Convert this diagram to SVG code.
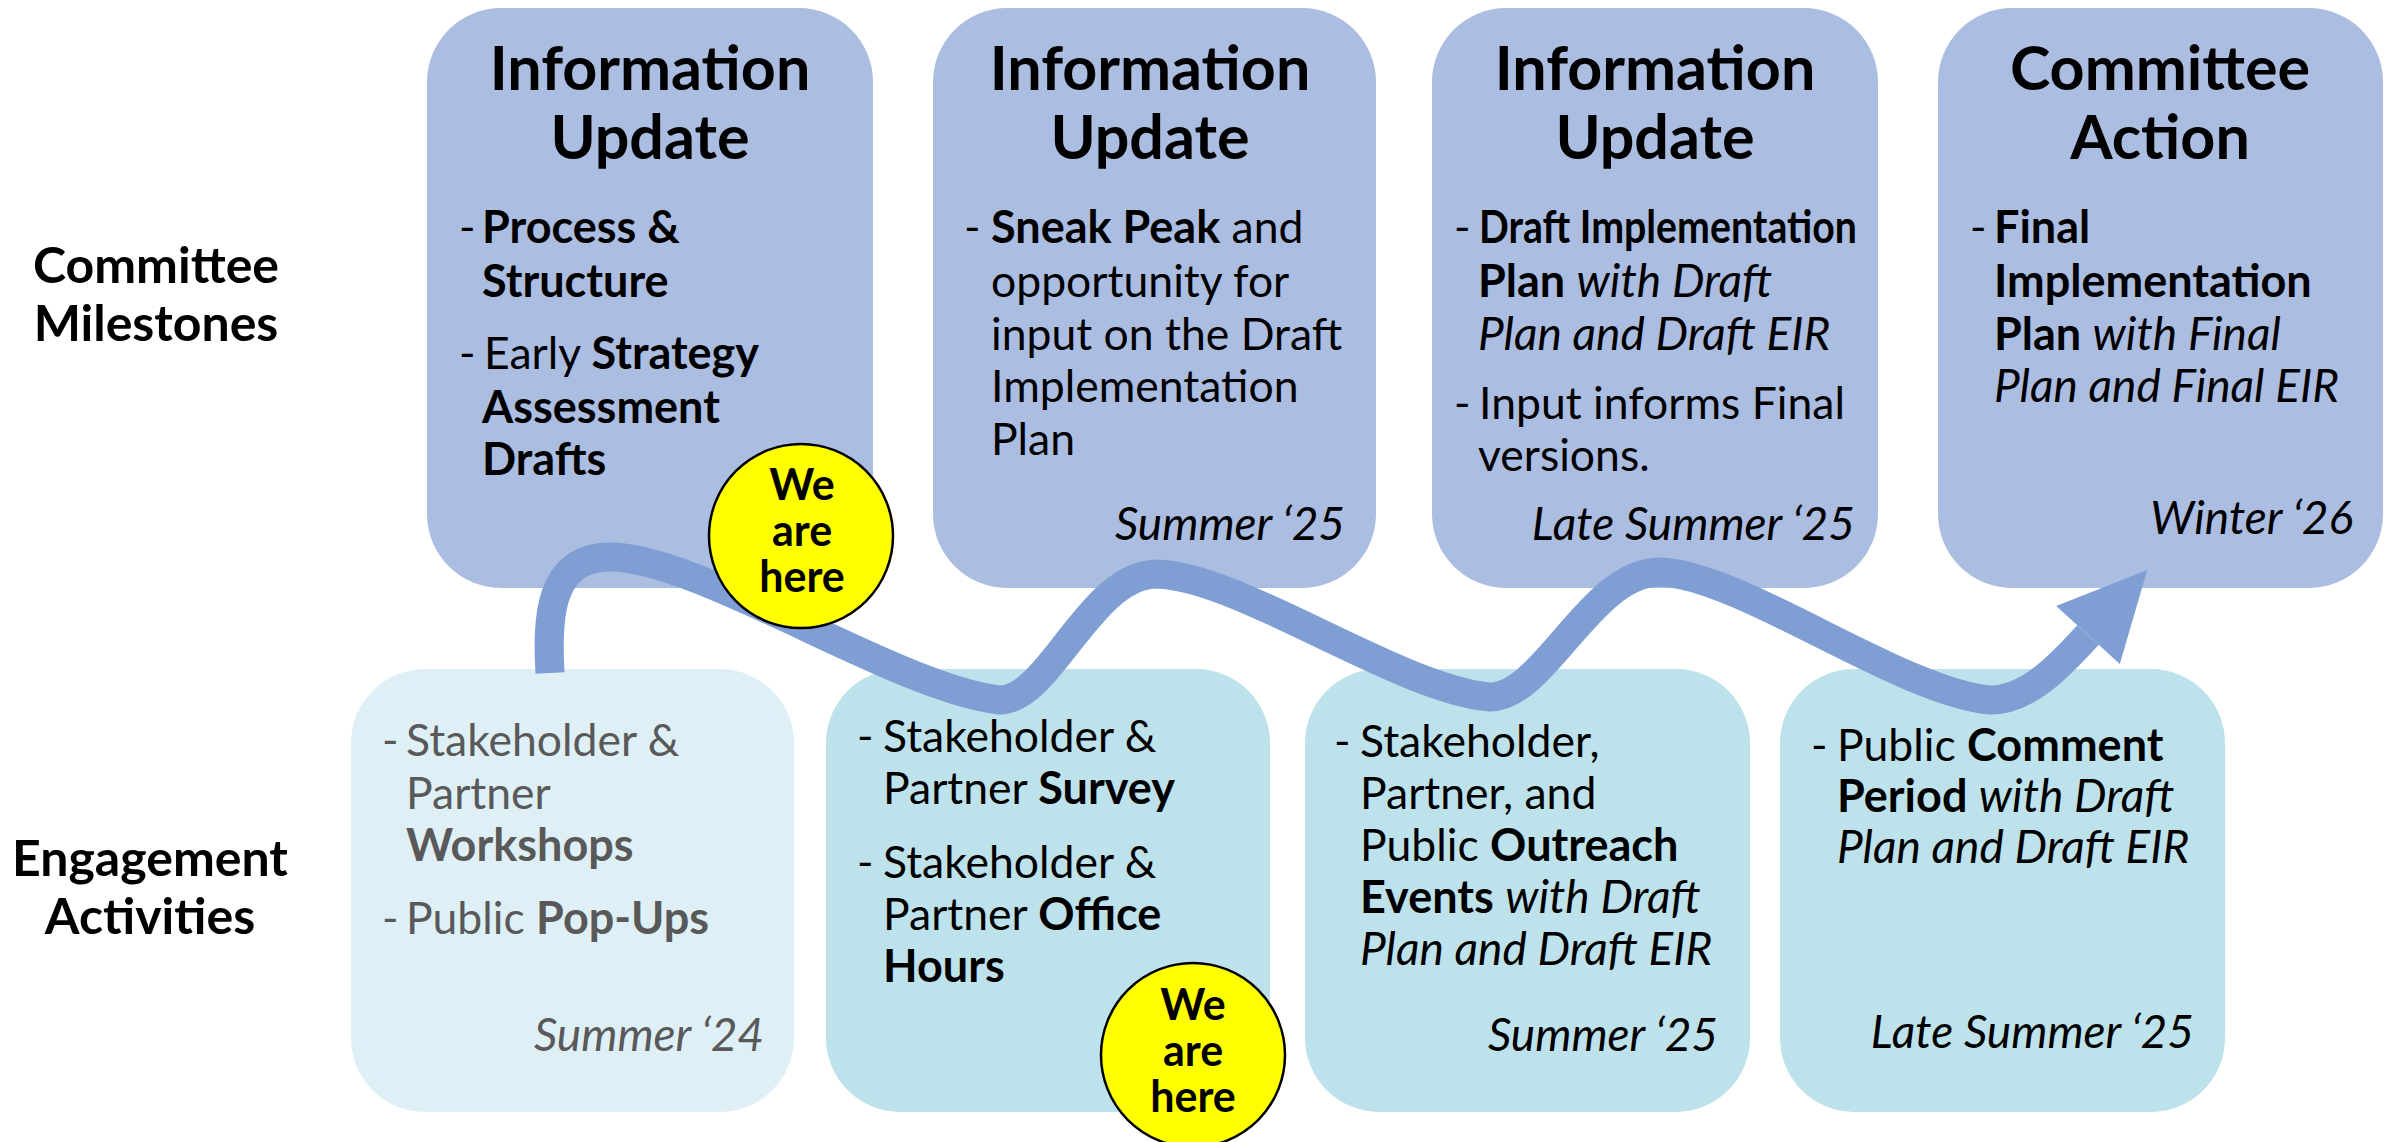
<svg xmlns="http://www.w3.org/2000/svg" width="2394" height="1142" viewBox="0 0 2394 1142">
<style>
.top{fill:#ABBDE0}
.bot{fill:#BEE2EB}
.bot1{fill:#DEF0F6}
text{font-family:Lato,"Liberation Sans",sans-serif;fill:#000}
.title{font-size:61px;font-weight:700;text-anchor:middle}
.body{font-size:44.5px}
.b{font-weight:700;font-size:45px}
.i{font-style:italic;font-size:46px}
.date{font-size:46px;font-style:italic;text-anchor:end}
.label{font-size:50px;font-weight:700;text-anchor:middle}
.gray, .gray tspan{fill:#595959}
.dot{fill:#FFFF00;stroke:#000;stroke-width:2.5}
.heret{font-size:43px;font-weight:700;text-anchor:middle}
.flow{fill:none;stroke:#7F9ED4;stroke-width:29;stroke-linecap:butt}
</style>
<defs>
<marker id="ah" markerUnits="userSpaceOnUse" orient="auto" markerWidth="90" markerHeight="90" refX="0" refY="0" overflow="visible">
<path d="M0,-43 L88,0 L0,43 Z" fill="#7F9ED4"/>
</marker>
</defs>

<g id="label-milestones">
<text class="label" x="156" y="283">Committee</text>
<text class="label" x="156" y="341">Milestones</text>
</g>
<g id="label-engagement">
<text class="label" x="150" y="876">Engagement</text>
<text class="label" x="150" y="934">Activities</text>
</g>

<g id="milestone1">
<rect class="top" x="427" y="8" width="446" height="580" rx="74"/>
<text class="title" x="650" y="90">Information</text>
<text class="title" x="650" y="159">Update</text>
<text class="body"><tspan x="459" y="243">-</tspan><tspan x="482" y="243" class="b">Process &amp;</tspan><tspan x="482" y="297" class="b">Structure</tspan><tspan x="459" y="369">-</tspan><tspan x="484" y="369">Early <tspan class="b">Strategy</tspan></tspan><tspan x="482" y="423" class="b">Assessment</tspan><tspan x="482" y="475" class="b">Drafts</tspan></text>
</g>

<g id="milestone2">
<rect class="top" x="933" y="8" width="443" height="580" rx="74"/>
<text class="title" x="1150" y="90">Information</text>
<text class="title" x="1150" y="159">Update</text>
<text class="body"><tspan x="964" y="243">-</tspan><tspan x="991" y="243"><tspan class="b">Sneak Peak</tspan> and</tspan><tspan x="991" y="297">opportunity for</tspan><tspan x="991" y="350">input on the Draft</tspan><tspan x="991" y="402">Implementation</tspan><tspan x="991" y="455">Plan</tspan></text>
<text class="date" x="1345" y="540">Summer ‘25</text>
</g>

<g id="milestone3">
<rect class="top" x="1432" y="8" width="446" height="580" rx="74"/>
<text class="title" x="1655" y="90">Information</text>
<text class="title" x="1655" y="159">Update</text>
<text class="body" x="1454" y="243">-</text>
<text class="body b" x="1479" y="243" textLength="378" lengthAdjust="spacingAndGlyphs">Draft Implementation</text>
<text class="body"><tspan x="1478" y="297"><tspan class="b">Plan</tspan> <tspan class="i">with Draft</tspan></tspan><tspan x="1478" y="350" class="i">Plan and Draft EIR</tspan><tspan x="1454" y="419">-</tspan><tspan x="1479" y="419">Input informs Final</tspan><tspan x="1478" y="471">versions.</tspan></text>
<text class="date" x="1855" y="540">Late Summer ‘25</text>
</g>

<g id="milestone4">
<rect class="top" x="1938" y="8" width="445" height="580" rx="74"/>
<text class="title" x="2160" y="90">Committee</text>
<text class="title" x="2160" y="159">Action</text>
<text class="body"><tspan x="1970" y="243">-</tspan><tspan x="1994" y="243" class="b">Final</tspan><tspan x="1994" y="297" class="b">Implementation</tspan><tspan x="1994" y="350"><tspan class="b">Plan</tspan> <tspan class="i">with Final</tspan></tspan><tspan x="1994" y="402" class="i">Plan and Final EIR</tspan></text>
<text class="date" x="2353" y="534">Winter ‘26</text>
</g>

<g id="activity1">
<rect class="bot1" x="351" y="669" width="443" height="443" rx="74"/>
<text class="body gray"><tspan x="382" y="756">-</tspan><tspan x="406" y="756">Stakeholder &amp;</tspan><tspan x="406" y="809">Partner</tspan><tspan x="406" y="861" class="b">Workshops</tspan><tspan x="382" y="934">-</tspan><tspan x="406" y="934">Public <tspan class="b">Pop-Ups</tspan></tspan></text>
<text class="date gray" x="764" y="1051">Summer ‘24</text>
</g>

<g id="activity2">
<rect class="bot" x="826" y="669" width="444" height="443" rx="74"/>
<text class="body"><tspan x="857" y="752">-</tspan><tspan x="883" y="752">Stakeholder &amp;</tspan><tspan x="883" y="804">Partner <tspan class="b">Survey</tspan></tspan><tspan x="857" y="878">-</tspan><tspan x="883" y="878">Stakeholder &amp;</tspan><tspan x="883" y="930">Partner <tspan class="b">Office</tspan></tspan><tspan x="883" y="982" class="b">Hours</tspan></text>
</g>

<g id="activity3">
<rect class="bot" x="1305" y="669" width="445" height="443" rx="74"/>
<text class="body"><tspan x="1334" y="757">-</tspan><tspan x="1360" y="757">Stakeholder,</tspan><tspan x="1360" y="809">Partner, and</tspan><tspan x="1360" y="861">Public <tspan class="b">Outreach</tspan></tspan><tspan x="1360" y="913"><tspan class="b">Events</tspan> <tspan class="i">with Draft</tspan></tspan><tspan x="1360" y="965" class="i">Plan and Draft EIR</tspan></text>
<text class="date" x="1718" y="1051">Summer ‘25</text>
</g>

<g id="activity4">
<rect class="bot" x="1780" y="669" width="445" height="443" rx="74"/>
<text class="body"><tspan x="1811" y="761">-</tspan><tspan x="1837" y="761">Public <tspan class="b">Comment</tspan></tspan><tspan x="1837" y="812"><tspan class="b">Period</tspan> <tspan class="i">with Draft</tspan></tspan><tspan x="1837" y="863" class="i">Plan and Draft EIR</tspan></text>
<text class="date" x="2194" y="1048">Late Summer ‘25</text>
</g>

<g id="connectors">
<path class="flow" marker-end="url(#ah)" d="M550,673 C547,620 548,557 610,557 C700,557 900,690 1000,700 C1050,700 1090,574 1157,574 C1240,576 1400,690 1490,697 C1545,697 1590,572 1660,572 C1740,574 1900,692 1990,700 C2027,700 2058,668 2088,635"/>
</g>

<g id="we-are-here-1">
<circle class="dot" cx="801" cy="536" r="92"/>
<text class="heret" x="802" y="500">We</text>
<text class="heret" x="802" y="546">are</text>
<text class="heret" x="802" y="592">here</text>
</g>

<g id="we-are-here-2">
<circle class="dot" cx="1193" cy="1055" r="92"/>
<text class="heret" x="1193" y="1020">We</text>
<text class="heret" x="1193" y="1066">are</text>
<text class="heret" x="1193" y="1112">here</text>
</g>
</svg>
